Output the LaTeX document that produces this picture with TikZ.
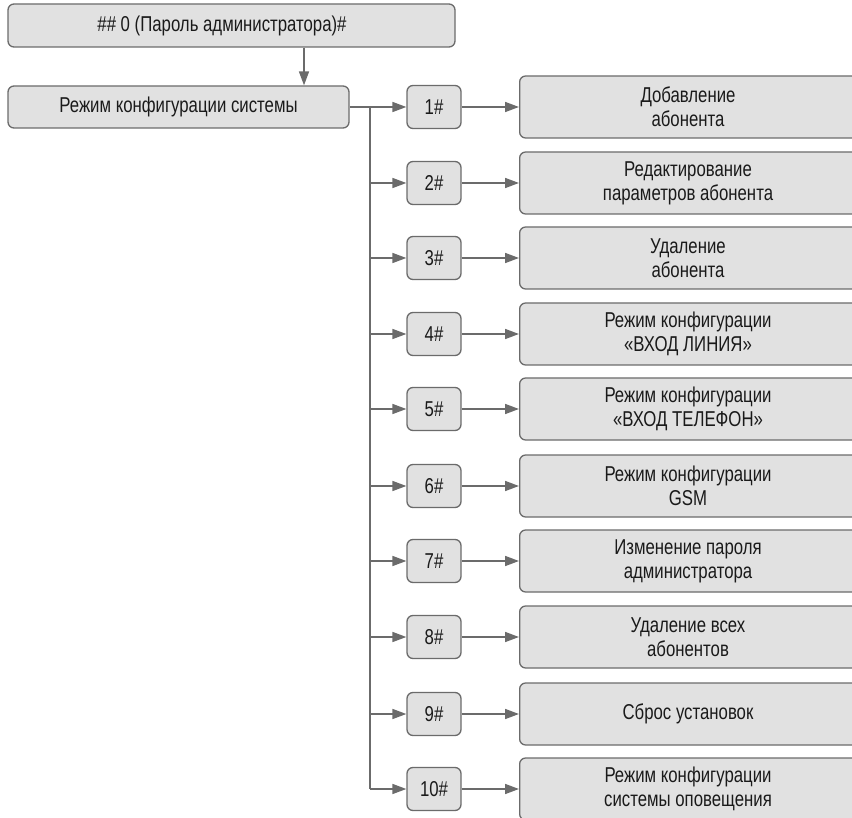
\documentclass[tikz,border=0pt]{standalone}
\usepackage{fontspec}
\setmainfont{Liberation Sans}[FakeStretch=0.78]
\usetikzlibrary{arrows.meta}
\definecolor{boxfill}{HTML}{E1E1E1}
\definecolor{lineg}{HTML}{6B6B6B}
\definecolor{txt}{HTML}{1A1A1A}
\tikzset{
  every node/.style={font=\fontsize{21.5}{24}\selectfont, text=txt},
  gbox/.style={draw=lineg, fill=boxfill, line width=1.3pt, rounded corners=6pt, inner sep=0pt, align=center},
  numbox/.style={gbox, minimum width=54pt, minimum height=43pt},
  bigbox/.style={gbox, minimum width=360pt, minimum height=62pt},
  lbl/.style={align=center, inner sep=0pt},
  conn/.style={draw=lineg, line width=1.6pt, -{Triangle[length=14pt, width=10pt]}},
  trunk/.style={draw=lineg, line width=1.6pt},
}
\begin{document}
\begin{tikzpicture}[x=1pt, y=-1pt]
\useasboundingbox (0,0) rectangle (852,818);
\begin{scope}
\clip (0,0) rectangle (852,818);
\node[gbox, minimum width=447pt, minimum height=43pt] (top) at (231.5,25.5) {};
\node[lbl] (toptext) at (222,25.5) {\#\# 0 (Пароль администратора)\#};
\node[gbox, minimum width=341pt, minimum height=42pt] (main) at (178.5,107) {Режим конфигурации системы};
\draw[conn] (top.south -| 304,0) -- (main.north -| 304,0);
\foreach \i/\y/\t in {
  1/107/{Добавление\\абонента},
  2/183/{Редактирование\\параметров абонента},
  3/258/{Удаление\\абонента},
  4/334/{Режим конфигурации\\«ВХОД ЛИНИЯ»},
  5/409/{Режим конфигурации\\«ВХОД ТЕЛЕФОН»},
  6/486/{Режим конфигурации\\GSM},
  7/561/{Изменение пароля\\администратора},
  8/637/{Удаление всех\\абонентов},
  9/714/{Сброс установок},
  10/789/{Режим конфигурации\\системы оповещения}}{
  \node[numbox] (n\i) at (434,\y) {\i\#};
  \node[bigbox, anchor=west] (b\i) at (519,\y) {};
  \node[lbl] (t\i) at (688,\y) {\t};
  \coordinate (j\i) at (370,\y);
  \draw[conn] (j\i) -- (n\i.west);
  \draw[conn] (n\i.east) -- (b\i.west);
}
\draw[trunk] (main.east) -- (j1);
\draw[trunk] (j1) -- (j10);
\end{scope}
\end{tikzpicture}
\end{document}
